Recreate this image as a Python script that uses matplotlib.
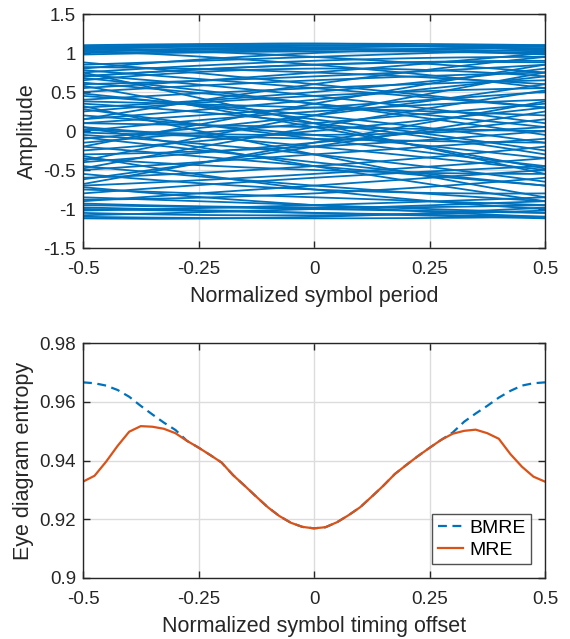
import numpy as np
import matplotlib
matplotlib.use("Agg")
import matplotlib.pyplot as plt

plt.rcParams['font.family'] = ['Liberation Sans', 'DejaVu Sans']

# ---------------- data ----------------
# Eye diagram traces: amplitude at x = -0.5, 0, +0.5
eye_start = [1.10, 1.08, 1.06, 1.04, 1.02, 1.09, 1.00, 1.05, 0.98,
             1.07, 1.03, 0.85, 0.80, 0.75, 0.70, 0.65, 0.82, 0.78, 0.72, 0.68, 0.60, 0.55, 0.50,
             0.45, 0.40, 0.35, 0.30, 0.25, 0.20, 0.15, 0.10, 0.05, 0.00, -0.05, -0.10, 0.02, -0.02,
             -0.15, -0.20, -0.25, -0.30, -0.35, -0.40, 0.10, 0.38,
             -0.45, -0.50, -0.55, -0.60, -0.70, -0.75, -0.80, -0.85, -0.90, -0.88,
             -0.95, -1.00, -1.05, -1.10, -1.12, -1.08, -0.98, -1.02, -0.93,
             0.62, 0.28, -0.08, -0.32, 0.48, -0.62, 0.88, -0.72,
             0.75, 0.58, 0.05, -0.20, -0.38, -0.68, 0.32, 0.15, -0.48, 0.70]
eye_mid = [1.12, 1.10, 1.09, 1.07, 1.05, 1.06, 1.04, 1.12, 1.02,
           0.95, 0.85, 0.95, 1.00, 0.90, 0.85, 0.80, 0.75, 0.55, 0.45, 0.35, 0.70, 0.75, 0.65,
           0.20, 0.55, 0.10, 0.50, 0.45, -0.05, 0.40, 0.30, -0.20, 0.25, -0.30, 0.20, -0.05, -0.10,
           0.10, -0.45, 0.00, -0.20, -0.50, -0.15, 0.05, 0.30,
           -0.70, -0.30, -0.75, -0.45, -0.55, -0.85, -0.60, -0.95, -0.70, -0.80,
           -1.00, -1.05, -1.08, -1.12, -1.10, -1.00, -1.05, -0.95, -0.98,
           0.35, -0.10, -0.40, -0.75, 0.15, -0.20, 0.60, -0.95,
           0.10, 0.05, -0.45, 0.35, 0.20, -0.15, -0.30, 0.60, 0.05, 0.85]
eye_end = [1.10, 1.05, 1.08, 1.10, 1.02, 0.98, 1.06, 1.03, 1.00,
           0.75, 0.55, 1.05, 1.08, 0.95, 0.90, 0.70, 0.60, 0.30, 0.10, -0.05, 0.85, 1.00, 0.75,
           -0.15, 0.65, -0.30, 0.80, 0.55, -0.35, 0.70, 0.50, -0.50, 0.40, -0.65, 0.60, 0.05, -0.15,
           0.35, -0.70, 0.30, 0.00, -0.55, 0.15, 0.00, 0.20,
           -0.90, -0.10, -0.80, -0.20, -0.35, -0.95, -0.45, -1.05, -0.50, -0.60,
           -1.05, -1.10, -1.02, -1.10, -0.98, -0.90, -1.12, -0.85, -0.95,
           0.05, -0.45, -0.70, -1.00, -0.25, 0.25, 0.30, -1.10,
           -0.55, -0.48, -0.90, 0.85, 0.75, 0.38, -0.85, 0.95, 0.52, 0.88]

# Entropy vs timing offset
offset = [-0.5, -0.475, -0.45, -0.425, -0.4, -0.375, -0.35, -0.325, -0.3, -0.275,
          -0.25, -0.225, -0.2, -0.175, -0.15, -0.125, -0.1, -0.075, -0.05, -0.025,
          0.0, 0.025, 0.05, 0.075, 0.1, 0.125, 0.15, 0.175, 0.2, 0.225,
          0.25, 0.275, 0.3, 0.325, 0.35, 0.375, 0.4, 0.425, 0.45, 0.475, 0.5]
mre = [0.9328, 0.9348, 0.9396, 0.9450, 0.9498, 0.9517, 0.9515, 0.9508, 0.9493, 0.9467,
       0.9444, 0.9419, 0.9393, 0.9350, 0.9314, 0.9277, 0.9241, 0.9211, 0.9188, 0.9174,
       0.9169, 0.9173, 0.9190, 0.9214, 0.9241, 0.9277, 0.9314, 0.9354, 0.9385, 0.9415,
       0.9443, 0.9470, 0.9491, 0.9501, 0.9505, 0.9493, 0.9474, 0.9422, 0.9379, 0.9345, 0.9328]
bmre = [0.9666, 0.9663, 0.9655, 0.9640, 0.9617, 0.9586, 0.9557, 0.9529, 0.9504, 0.9467,
        0.9444, 0.9419, 0.9393, 0.9350, 0.9314, 0.9277, 0.9241, 0.9211, 0.9188, 0.9174,
        0.9169, 0.9173, 0.9190, 0.9214, 0.9241, 0.9277, 0.9314, 0.9354, 0.9385, 0.9415,
        0.9443, 0.9470, 0.9495, 0.9532, 0.9560, 0.9586, 0.9614, 0.9637, 0.9655, 0.9663, 0.9666]

x_ticks = [-0.5, -0.25, 0, 0.25, 0.5]
x_ticklabels = ['-0.5', '-0.25', '0', '0.25', '0.5']
y1_ticks = [-1.5, -1, -0.5, 0, 0.5, 1, 1.5]
y1_ticklabels = ['-1.5', '-1', '-0.5', '0', '0.5', '1', '1.5']
y2_ticks = [0.9, 0.92, 0.94, 0.96, 0.98]
y2_ticklabels = ['0.9', '0.92', '0.94', '0.96', '0.98']

BLUE = '#0072BD'
ORANGE = '#D95319'
AX = '#262626'

fig = plt.figure(figsize=(5.7, 6.39), dpi=100)
ax1 = fig.add_axes([83/570, 1-248/639, 462/570, 234/639])
ax2 = fig.add_axes([83/570, 1-578/639, 462/570, 235/639])


def style(ax):
    ax.set_axisbelow(True)
    ax.grid(True, color='#dcdcdc', linewidth=1.0)
    for s in ax.spines.values():
        s.set_color(AX)
        s.set_linewidth(1.0)
    ax.tick_params(direction='in', top=True, right=True, length=5, width=1.0,
                   colors=AX, labelsize=13.5)
    ax.tick_params(axis='x', pad=9)
    ax.tick_params(axis='y', pad=5)


# top: eye diagram
t = np.linspace(-0.5, 0.5, 101)
for a, b, c in zip(eye_start, eye_mid, eye_end):
    # quadratic through the three read values
    y = a * (t * (t - 0.5)) / 0.5 + b * (-(t + 0.5) * (t - 0.5)) / 0.25 + c * (t * (t + 0.5)) / 0.5
    ax1.plot(t, y, color=BLUE, linewidth=1.3)
ax1.set_xlim(-0.5, 0.5)
ax1.set_ylim(-1.5, 1.5)
ax1.set_xticks(x_ticks)
ax1.set_xticklabels(x_ticklabels)
ax1.set_yticks(y1_ticks)
ax1.set_yticklabels(y1_ticklabels)
ax1.set_xlabel('Normalized symbol period', fontsize=15.5, color=AX, labelpad=6)
ax1.set_ylabel('Amplitude', fontsize=15.5, color=AX, labelpad=4)
style(ax1)

# bottom: entropy
ax2.plot(offset, bmre, color=BLUE, linewidth=1.6, linestyle=(0, (4, 2.5)), label='BMRE')
ax2.plot(offset, mre, color=ORANGE, linewidth=1.6, label='MRE')
ax2.set_xlim(-0.5, 0.5)
ax2.set_ylim(0.9, 0.98)
ax2.set_xticks(x_ticks)
ax2.set_xticklabels(x_ticklabels)
ax2.set_yticks(y2_ticks)
ax2.set_yticklabels(y2_ticklabels)
ax2.set_xlabel('Normalized symbol timing offset', fontsize=15.5, color=AX, labelpad=6)
ax2.set_ylabel('Eye diagram entropy', fontsize=15.5, color=AX, labelpad=4)
style(ax2)
leg = ax2.legend(loc='lower right', fontsize=14, frameon=True, fancybox=False,
                 edgecolor=AX, handlelength=1.3, handletextpad=0.3, borderpad=0.3,
                 labelspacing=0.2, borderaxespad=0.7)
leg.get_frame().set_linewidth(1.0)

fig.savefig('out.png', dpi=100)
